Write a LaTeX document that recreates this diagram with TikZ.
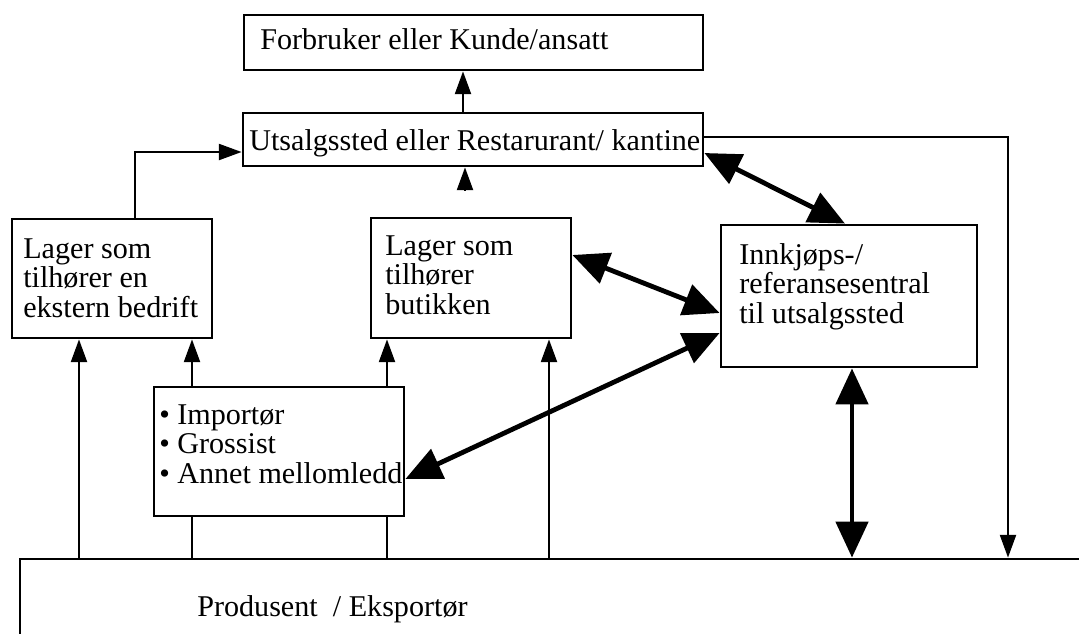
\documentclass[tikz,border=0pt]{standalone}
\usepackage{fontspec}
\setmainfont{Liberation Serif}
\usetikzlibrary{arrows.meta,fit}
\begin{document}
\begin{tikzpicture}[x=0.75pt,y=-0.75pt,
  box/.style={draw,line width=2.1pt,inner sep=0pt},
  txt/.style={anchor=base west,inner sep=0pt,font=\fontsize{22.6}{22.2}\selectfont},
  thinarrow/.style={line width=1.5pt,-{Triangle[width=12pt,length=17pt]}},
  thinline/.style={line width=1.5pt},
  thickarrow/.style={line width=3.6pt,{Triangle[width=24pt,length=27pt]}-{Triangle[width=24pt,length=27pt]}}]
\useasboundingbox (0,0) rectangle (1079,633);
\clip (0,0) rectangle (1079,633);
\fill[white] (0,0) rectangle (1079,633);

% boxes
\node[box,fit={(244,15)(703,70)}] (forb) {};
\node[box,fit={(243,113)(703,166)}] (uts) {};
\node[box,fit={(12,219)(212,338)}] (lagE) {};
\node[box,fit={(371,218)(571,338)}] (lagB) {};
\node[box,fit={(721,225)(977,367)}] (innk) {};
\node[box,fit={(154,387)(404,516)}] (imp) {};
\node[box,fit={(20,559)(1100,660)}] (prod) {};

% texts
\node[txt] (forbT) at (260,49) {Forbruker eller Kunde/ansatt};
\node[txt] (utsT) at (249,150) {Utsalgssted eller Restarurant/ kantine};
\node[txt] (lagET) at (23,258) {\vtop{\hbox{Lager som}\hbox{tilhører en}\hbox{ekstern bedrift}}};
\node[txt] (lagBT) at (385,255) {\vtop{\hbox{Lager som}\hbox{tilhører}\hbox{butikken}}};
\node[txt] (innkT) at (739,264) {\vtop{\hbox{Innkjøps-/}\hbox{referansesentral}\hbox{til utsalgssted}}};
\node[txt] (impT) at (159,424) {\vtop{\hbox{• Importør}\hbox{• Grossist}\hbox{• Annet mellomledd}}};
\node[txt] (prodT) at (197,616) {Produsent\ \ / Eksportør};

% helper coordinates
\coordinate (xa) at (463,0);
\coordinate (xb) at (465,190);
\coordinate (cl) at (135,152);
\coordinate (cr) at (1008,137);
\coordinate (x79) at (79,0);
\coordinate (x192) at (192,0);
\coordinate (x387) at (387,0);
\coordinate (x549) at (549,0);
\coordinate (x852) at (852,0);
\coordinate (x845) at (845,0);
\coordinate (y153) at (0,153);
\coordinate (y255) at (0,255);
\coordinate (y313) at (0,313);
\coordinate (y333) at (0,333);
\coordinate (y479) at (0,479);

% thin connectors
\draw[thinarrow] (uts.north -| xa) -- (forb.south -| xa);
\draw[thinarrow] (xb) -- (uts.south -| xb);
\draw[thinarrow] (lagE.north -| cl) -- (cl) -- (uts.west |- cl);
\draw[thinarrow] (uts.east |- cr) -- (cr) -- (prod.north -| cr);
\draw[thinarrow] (prod.north -| x79) -- (lagE.south -| x79);
\draw[thinline] (prod.north -| x192) -- (imp.south -| x192);
\draw[thinarrow] (imp.north -| x192) -- (lagE.south -| x192);
\draw[thinline] (prod.north -| x387) -- (imp.south -| x387);
\draw[thinarrow] (imp.north -| x387) -- (lagB.south -| x387);
\draw[thinarrow] (prod.north -| x549) -- (lagB.south -| x549);

% thick double arrows
\draw[thickarrow] (uts.east |- y153) -- (innk.north -| x845);
\draw[thickarrow] (lagB.east |- y255) -- (innk.west |- y313);
\draw[thickarrow] (imp.east |- y479) -- (innk.west |- y333);
\draw[thickarrow] (innk.south -| x852) -- (prod.north -| x852);
\end{tikzpicture}
\end{document}
